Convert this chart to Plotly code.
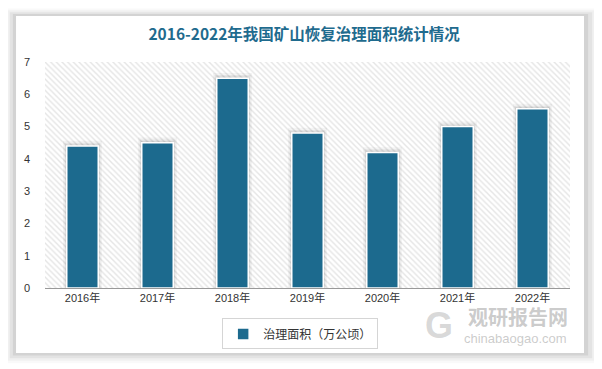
import plotly.graph_objects as go

years = ["2016年", "2017年", "2018年", "2019年", "2020年", "2021年", "2022年"]
area = [4.4, 4.5, 6.5, 4.8, 4.2, 5.0, 5.55]
series_name = "治理面积（万公顷）"
title_text = "2016-2022年我国矿山恢复治理面积统计情况"
y_ticks = [0, 1, 2, 3, 4, 5, 6, 7]
Y_MAX = 7

BAR_COLOR = "#1c6a8e"
TITLE_COLOR = "#1f6b8e"
FONT = "Liberation Sans, Noto Sans CJK SC, sans-serif"
BAR_W = 0.42

fig = go.Figure()

# hatched plot background
fig.add_trace(go.Bar(
    x=[years[3]], y=[Y_MAX], width=[len(years)],
    marker=dict(color="white", line=dict(width=0),
                pattern=dict(shape="\\", fgcolor="#cccccc", bgcolor="white", size=4, solidity=0.35)),
    showlegend=False, hoverinfo="skip"))

# soft shadow behind bars
for extra, alpha in [(0.10, 0.04), (0.06, 0.06), (0.03, 0.08)]:
    fig.add_trace(go.Bar(
        x=years, y=[v + extra * 1.6 for v in area], width=[BAR_W + extra] * len(years),
        marker=dict(color=f"rgba(0,0,0,{alpha})", line=dict(width=0)),
        showlegend=False, hoverinfo="skip"))

fig.add_trace(go.Bar(
    x=years, y=area, width=[BAR_W] * len(years), name=series_name,
    marker=dict(color=BAR_COLOR, line=dict(color="white", width=1.5))))

# card + shadow
card = dict(x0=-0.0552, x1=1.0267, y0=-0.2876, y1=1.2035)
for i, a in enumerate([0.025, 0.035, 0.05, 0.07]):
    d = (4 - i) * 0.006
    fig.add_shape(type="rect", xref="paper", yref="paper", layer="below",
                  x0=card["x0"] - d, x1=card["x1"] + d * 1.3,
                  y0=card["y0"] - d * 1.9, y1=card["y1"] + d * 1.4,
                  fillcolor=f"rgba(0,0,0,{a})", line=dict(width=0))
fig.add_shape(type="rect", xref="paper", yref="paper", layer="below",
              fillcolor="white", line=dict(width=0), **card)

# watermark
fig.add_annotation(xref="paper", yref="paper", x=1.0, y=-0.127, xanchor="right", yanchor="middle",
                   text="<b>观研报告网</b>", showarrow=False,
                   font=dict(size=20, color="rgba(160,160,160,0.55)", family="Noto Sans CJK SC"))
fig.add_annotation(xref="paper", yref="paper", x=0.998, y=-0.222, xanchor="right", yanchor="middle",
                   text="chinabaogao.com", showarrow=False,
                   font=dict(size=13, color="rgba(160,160,160,0.55)", family="Liberation Sans"))
fig.add_annotation(xref="paper", yref="paper", x=0.75, y=-0.165, xanchor="center", yanchor="middle",
                   text="<b>G</b>", showarrow=False,
                   font=dict(size=36, color="rgba(170,170,170,0.45)", family="Liberation Sans"))

fig.update_layout(
    width=602, height=369,
    margin=dict(l=37, r=40, t=54, b=89),
    paper_bgcolor="white", plot_bgcolor="rgba(0,0,0,0)",
    barmode="overlay",
    font=dict(family=FONT, size=11, color="#333333"),
    title=dict(text=f"<b>{title_text}</b>", x=0.492, xanchor="center", y=0.927, yanchor="middle",
               font=dict(size=15.5, color=TITLE_COLOR, family="Noto Sans CJK SC")),
    showlegend=True,
    legend=dict(orientation="h", x=0.486, xanchor="center", y=-0.2035, yanchor="middle",
                bordercolor="#d5d5d5", borderwidth=1, bgcolor="white",
                font=dict(size=12, color="#333333", family="Noto Sans CJK SC")),
    xaxis=dict(showgrid=False, showline=True, linecolor="#999999", linewidth=1,
               categoryorder="array", categoryarray=years,
               ticks="", tickfont=dict(size=11), range=[-0.5, len(years) - 0.5]),
    yaxis=dict(range=[0, Y_MAX], tickvals=y_ticks, showgrid=False, zeroline=False,
               showline=False, ticks="", ticklabelstandoff=14, tickfont=dict(size=11)),
)

fig.write_html("out.html")
